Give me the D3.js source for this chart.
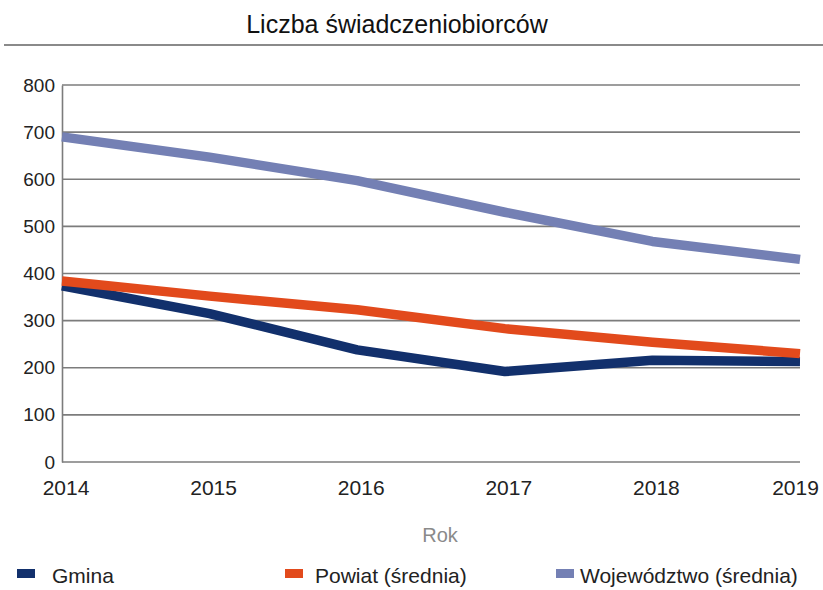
<!DOCTYPE html>
<html><head><meta charset="utf-8">
<script src="https://cdn.jsdelivr.net/npm/d3@7"></script>
<style>body{margin:0;background:#fff;} svg{display:block;font-family:"Liberation Sans",Arial,sans-serif;}</style>
</head><body>
<svg id="c" width="823" height="590"></svg>
<script>
const years = [2014, 2015, 2016, 2017, 2018, 2019];
const gmina = [374, 315, 238, 192, 216, 213];
const powiat = [384, 352, 323, 283, 254, 230];
const wojewodztwo = [690, 647, 597, 530, 468, 430];
const yTicks = [0, 100, 200, 300, 400, 500, 600, 700, 800];
const seriesNames = ["Gmina", "Powiat (średnia)", "Województwo (średnia)"];
const seriesColors = ["#12306c", "#e24a1c", "#7480b4"];
const title = "Liczba świadczeniobiorców";
const xTitle = "Rok";

const svg = d3.select("#c");
const m = {left: 62, right: 800, top: 85, bottom: 462};
const x = d3.scalePoint().domain(years).range([m.left, m.right]);
const y = d3.scaleLinear().domain([0, 800]).range([m.bottom, m.top]);

svg.append("text").attr("x", 397).attr("y", 33).attr("text-anchor", "middle")
  .attr("font-size", 25).attr("fill", "#111").text(title);
svg.append("line").attr("x1", 4).attr("x2", 823).attr("y1", 45).attr("y2", 45)
  .attr("stroke", "#8a8a8a").attr("stroke-width", 2);

// gridlines
svg.append("g").selectAll("line").data(yTicks).join("line")
  .attr("x1", m.left).attr("x2", m.right)
  .attr("y1", d => y(d)).attr("y2", d => y(d))
  .attr("stroke", "#7c7c7c").attr("stroke-width", 1.6);

// y axis
const ya = svg.append("g").attr("transform", `translate(${m.left},0)`)
  .call(d3.axisLeft(y).tickValues(yTicks).tickSize(0).tickPadding(7));
ya.select(".domain").attr("stroke", "#7c7c7c").attr("stroke-width", 1.6);
ya.selectAll("text").attr("font-size", 19).attr("fill", "#222")
  .attr("font-family", "Liberation Sans, Arial, sans-serif");

// x axis
const xa = svg.append("g").attr("transform", `translate(0,${m.bottom})`)
  .call(d3.axisBottom(x).tickSize(0).tickPadding(18).tickFormat(d => d));
xa.select(".domain").remove();
xa.selectAll("text").attr("font-size", 21).attr("fill", "#222")
  .attr("font-family", "Liberation Sans, Arial, sans-serif");
xa.selectAll(".tick text").attr("dx", 3.5);
xa.selectAll(".tick text").filter(d => d === 2019).attr("dx", -5);

svg.append("text").attr("x", 440).attr("y", 542).attr("text-anchor", "middle")
  .attr("font-size", 20).attr("fill", "#8a8a8a").text(xTitle);

const data = [gmina, powiat, wojewodztwo];
const line = d3.line().x((d, i) => x(years[i])).y(d => y(d));
[2, 0, 1].forEach(k => {
  svg.append("path").datum(data[k]).attr("d", line)
    .attr("fill", "none").attr("stroke", seriesColors[k])
    .attr("stroke-width", 9.5).attr("stroke-linejoin", "round");
});

// legend
const legX = [17, 285, 556];
const lg = svg.append("g").selectAll("g").data(seriesNames).join("g")
  .attr("transform", (d, i) => `translate(${legX[i]},583)`);
lg.append("rect").attr("x", 0).attr("y", -14).attr("width", 18).attr("height", 9)
  .attr("fill", (d, i) => seriesColors[i]);
lg.append("text").attr("x", (d, i) => i === 0 ? 35 : (i === 1 ? 30 : 24)).attr("y", 0)
  .attr("font-size", 21).attr("fill", "#222").text(d => d);
</script>
</body></html>
